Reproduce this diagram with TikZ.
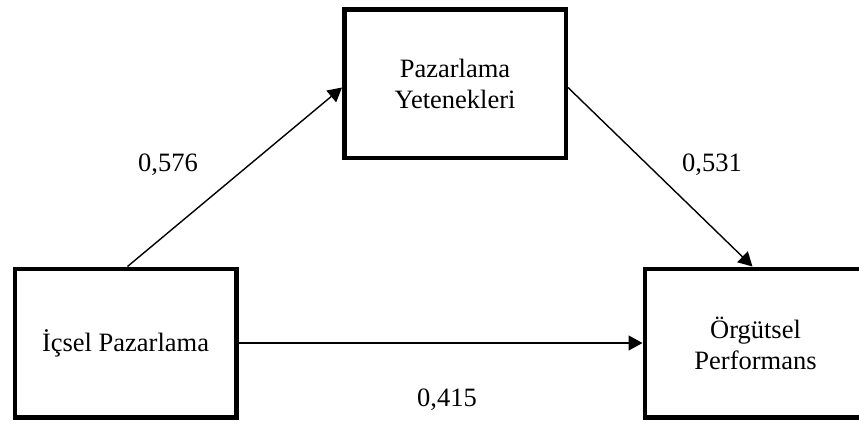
\documentclass[tikz,border=0pt]{standalone}
\usepackage{fontspec}
\setmainfont{Liberation Serif}
\usetikzlibrary{positioning,arrows.meta}

\begin{document}
\begin{tikzpicture}[x=1pt, y=-1pt, line width=1.4pt, >={Triangle[length=14pt, width=15pt]}, main/.style = {draw, rectangle, line width=4.5pt, minimum width=221.5pt, minimum height=148.5pt, align=center, font=\fontsize{26.5}{31}\selectfont}, val/.style = {font=\fontsize{26.5}{31}\selectfont}]
\clip (0,0) rectangle (859,423);
\node[main] (ip) at (125.5,343) {İçsel Pazarlama};
\node[main] (py) at (455,83.5) {Pazarlama\\Yetenekleri};
\node[main] (op) [right=404pt of ip] {Örgütsel\\Performans};
\node[val] (b1) at (168,165) {0,576};
\node[val] (b2) at (712,165) {0,531};
\node[val] (b3) at (447,400) {0,415};
\draw[->] ([xshift=2pt]ip.north) -- ([yshift=-4pt]py.west);
\draw[->] ([yshift=-4pt]py.east) -- ([xshift=-3pt]op.north);
\draw[->] (ip.east) -- (op.west);
\end{tikzpicture}
\end{document}
